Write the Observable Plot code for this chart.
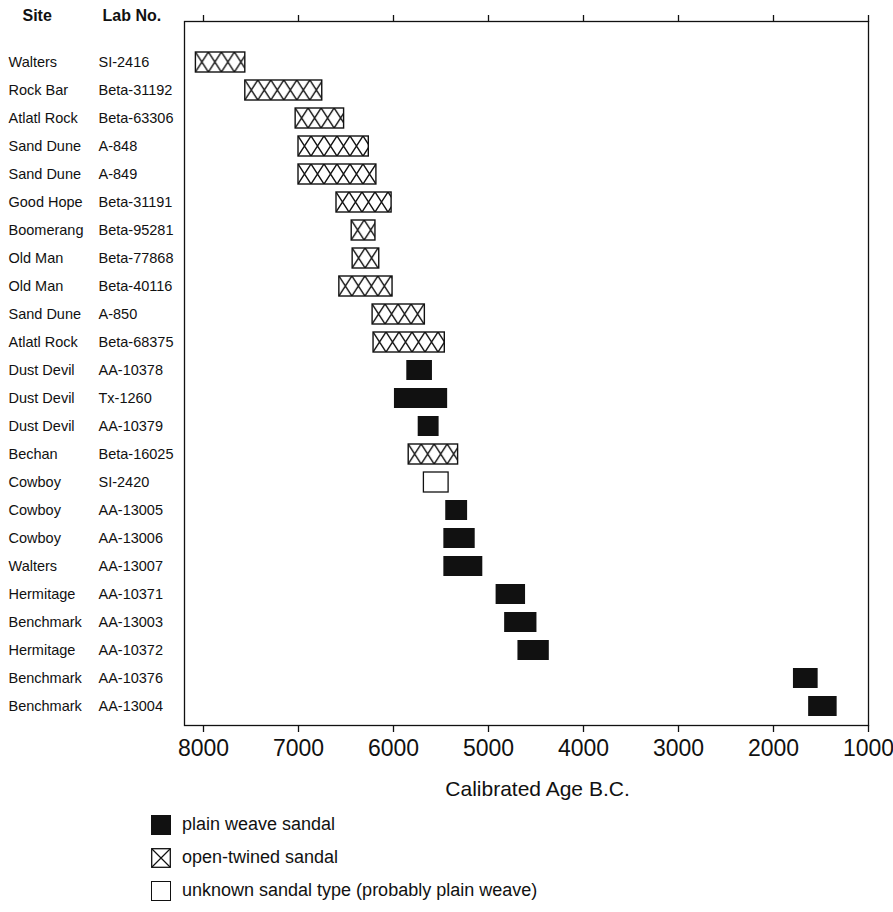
<!DOCTYPE html>
<html><head><meta charset="utf-8">
<script src="https://cdn.jsdelivr.net/npm/d3@7"></script>
<script src="https://cdn.jsdelivr.net/npm/@observablehq/plot@0.6"></script>
<style>
body{margin:0;background:#fff;font-family:"Liberation Sans",Arial,sans-serif;}
#legend{margin-left:151px;}
.item{height:33px;display:flex;align-items:center;font-size:18px;color:#111;}
.sw{width:20px;height:20px;box-sizing:border-box;margin-right:11px;flex:none;}
</style></head><body><div id="chart"></div><div id="legend"></div>
<script>
const sites = ["Walters","Rock Bar","Atlatl Rock","Sand Dune","Sand Dune","Good Hope","Boomerang","Old Man","Old Man","Sand Dune","Atlatl Rock","Dust Devil","Dust Devil","Dust Devil","Bechan","Cowboy","Cowboy","Cowboy","Walters","Hermitage","Benchmark","Hermitage","Benchmark","Benchmark"];
const labs = ["SI-2416","Beta-31192","Beta-63306","A-848","A-849","Beta-31191","Beta-95281","Beta-77868","Beta-40116","A-850","Beta-68375","AA-10378","Tx-1260","AA-10379","Beta-16025","SI-2420","AA-13005","AA-13006","AA-13007","AA-10371","AA-13003","AA-10372","AA-10376","AA-13004"];
const startBC = [8080,7560,7030,7000,7000,6600,6440,6430,6570,6220,6210,5860,5990,5740,5840,5680,5450,5470,5470,4920,4830,4690,1790,1630];
const endBC   = [7560,6750,6520,6260,6180,6020,6190,6150,6010,5670,5460,5590,5430,5520,5320,5420,5220,5140,5060,4610,4490,4360,1530,1330];
const types = ["twined","twined","twined","twined","twined","twined","twined","twined","twined","twined","twined","plain","plain","plain","twined","unknown","plain","plain","plain","plain","plain","plain","plain","plain"];
const xTicks = [8000,7000,6000,5000,4000,3000,2000,1000];
const headers = ["Site","Lab No."];
const axisTitle = "Calibrated Age B.C.";
const legendTypes = ["plain","twined","unknown"];
const legendLabels = ["plain weave sandal","open-twined sandal","unknown sandal type (probably plain weave)"];

const data = labs.map((lab,i)=>({lab, site:sites[i], start:startBC[i], end:endBC[i], type:types[i]}));
const ink = "#111";
const ns = "http://www.w3.org/2000/svg";
const mk = (tag, attrs) => { const e = document.createElementNS(ns, tag); for (const k in attrs) e.setAttribute(k, attrs[k]); return e; };

// crosshatch: one pattern per bar, aligned to that bar's top-left corner
function hatch(index, scales, values, dimensions, context, next) {
  const g = next(index, scales, values, dimensions, context);
  const defs = mk("defs", {});
  g.insertBefore(defs, g.firstChild);
  g.querySelectorAll("rect").forEach((r, i) => {
    const x = +r.getAttribute("x"), y = +r.getAttribute("y"), h = +r.getAttribute("height");
    const w = 13;
    const p = mk("pattern", {id: "hatch" + i, patternUnits: "userSpaceOnUse", x, y, width: w, height: h});
    p.appendChild(mk("rect", {width: w, height: h, fill: "#fff", stroke: "none"}));
    p.appendChild(mk("path", {d: `M0,0L${w},${h}M${w},0L0,${h}`, stroke: ink, "stroke-width": 1.45, fill: "none"}));
    defs.appendChild(p);
    r.setAttribute("fill", `url(#hatch${i})`);
  });
  return g;
}

const chart = Plot.plot({
  width: 893, height: 808,
  marginLeft: 184, marginRight: 25, marginTop: 21, marginBottom: 83,
  style: {fontFamily: '"Liberation Sans", Arial, sans-serif', color: ink, background: "#fff"},
  x: {domain: [8200, 1000], axis: null},
  y: {domain: labs, paddingInner: 0.3, paddingOuter: 0.435, align: 0.76, axis: null},
  marks: [
    Plot.frame({stroke: ink, strokeWidth: 1.3}),
    Plot.axisX(xTicks, {anchor: "bottom", tickSize: 7, tickPadding: 7, tickFormat: d => String(d), fontSize: 23, fontFamily: '"Liberation Sans Narrow", "Arial Narrow", "Liberation Sans", sans-serif', stroke: ink, strokeWidth: 1.3, fill: ink}),
    Plot.axisX(xTicks, {anchor: "top", tickSize: 7, tickFormat: () => "", stroke: ink, strokeWidth: 1.3}),
    Plot.barX(data.filter(d=>d.type==="twined"), {x1:"start", x2:"end", y:"lab", fill:"#fff", stroke: ink, strokeWidth: 1.4, render: hatch}),
    Plot.barX(data.filter(d=>d.type==="plain"), {x1:"start", x2:"end", y:"lab", fill: ink}),
    Plot.barX(data.filter(d=>d.type==="unknown"), {x1:"start", x2:"end", y:"lab", fill:"#fff", stroke: ink, strokeWidth: 1.3}),
    Plot.text(data, {y:"lab", text:"site", frameAnchor:"left", textAnchor:"start", dx:-176, fontSize:14.5, fill: ink}),
    Plot.text(data, {y:"lab", text:"lab", frameAnchor:"left", textAnchor:"start", dx:-86, fontSize:14.5, fill: ink}),
    Plot.text(headers.slice(0,1), {frameAnchor:"top-left", textAnchor:"start", dx:-162, dy:-6, fontSize:16, fontWeight:"bold", fill: ink, lineAnchor:"middle"}),
    Plot.text(headers.slice(1), {frameAnchor:"top-left", textAnchor:"start", dx:-82, dy:-6, fontSize:16, fontWeight:"bold", fill: ink, lineAnchor:"middle"}),
    Plot.text([axisTitle], {frameAnchor:"bottom", dx:11, dy:64, fontSize:21, fill: ink, lineAnchor:"middle"})
  ]
});
document.getElementById("chart").appendChild(chart);

// legend
const legend = document.getElementById("legend");
legendTypes.forEach((t, i) => {
  const item = document.createElement("div"); item.className = "item";
  let sw;
  if (t === "twined") {
    sw = mk("svg", {width: 20, height: 20, class: "sw"});
    sw.appendChild(mk("rect", {x: 0.7, y: 0.7, width: 18.6, height: 18.6, fill: "#fff", stroke: ink, "stroke-width": 1.3}));
    sw.appendChild(mk("path", {d: "M1,1L19,19M19,1L1,19", stroke: ink, "stroke-width": 1.2}));
  } else {
    sw = document.createElement("div"); sw.className = "sw";
    if (t === "plain") sw.style.background = ink;
    else { sw.style.background = "#fff"; sw.style.border = "1.3px solid " + ink; }
  }
  item.appendChild(sw);
  const s = document.createElement("span"); s.textContent = legendLabels[i];
  item.appendChild(s);
  legend.appendChild(item);
});
</script></body></html>
